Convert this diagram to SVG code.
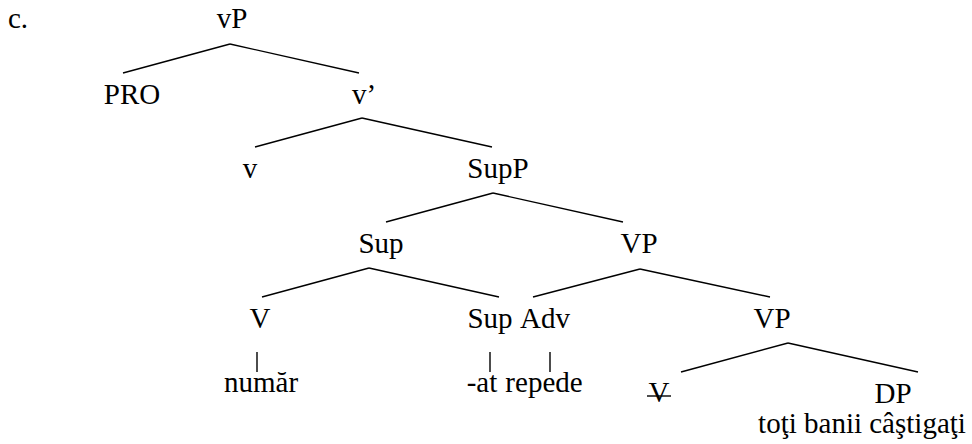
<svg xmlns="http://www.w3.org/2000/svg" width="972" height="444" viewBox="0 0 972 444">
<style>
text{font-family:"Liberation Serif","Times New Roman",serif;font-size:29px;fill:#000;text-anchor:middle}
.e line,line.e{stroke:#000;stroke-width:1.4;fill:none}
</style>
<rect width="972" height="444" fill="#fff"/>
<g id="label-c"><text x="8" y="28" style="text-anchor:start">c.</text></g>
<g id="n-vP"><text x="232" y="28">vP</text></g>
<g id="n-PRO"><text x="132" y="104">PRO</text></g>
<g id="n-vbar"><text x="364" y="104">v’</text></g>
<g id="n-v"><text x="250" y="178">v</text></g>
<g id="n-SupP"><text x="498" y="178">SupP</text></g>
<g id="n-Sup1"><text x="381" y="253">Sup</text></g>
<g id="n-VP1"><text x="639" y="253">VP</text></g>
<g id="n-V"><text x="260" y="328">V</text></g>
<g id="n-Sup2"><text x="490" y="328">Sup</text></g>
<g id="n-Adv"><text x="545" y="328">Adv</text></g>
<g id="n-VP2"><text x="772" y="328">VP</text></g>
<g id="n-numar"><text x="261" y="392">număr</text></g>
<g id="n-at"><text x="482" y="392">-at</text></g>
<g id="n-repede"><text x="544" y="392">repede</text></g>
<g id="n-Vtrace"><text x="659" y="402">V</text><line class="e" x1="647" y1="396" x2="671" y2="396"/></g>
<g id="n-DP"><text x="893" y="403">DP</text></g>
<g id="n-DPtext"><text x="862" y="433">toţi banii câştigaţi</text></g>
<g id="connectors" class="e">
<line x1="230" y1="44" x2="123" y2="73"/>
<line x1="230" y1="44" x2="359" y2="73"/>
<line x1="362" y1="118" x2="255" y2="147"/>
<line x1="362" y1="118" x2="492" y2="147"/>
<line x1="493" y1="193" x2="386" y2="222"/>
<line x1="493" y1="193" x2="623" y2="222"/>
<line x1="369" y1="268" x2="262" y2="297"/>
<line x1="369" y1="268" x2="499" y2="297"/>
<line x1="640" y1="269" x2="533" y2="297"/>
<line x1="640" y1="269" x2="770" y2="297"/>
<line x1="257" y1="352" x2="257" y2="372"/>
<line x1="490" y1="352" x2="490" y2="372"/>
<line x1="550" y1="352" x2="550" y2="372"/>
<line x1="788" y1="343" x2="681" y2="372"/>
<line x1="788" y1="343" x2="918" y2="372"/>
</g>
</svg>
